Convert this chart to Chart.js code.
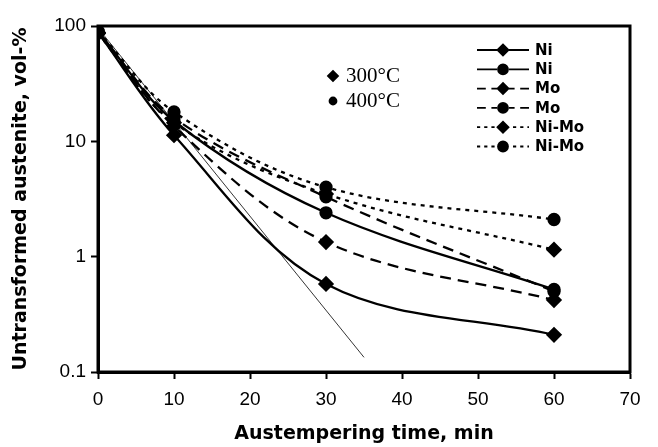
<!DOCTYPE html>
<html>
<head>
<meta charset="utf-8">
<script src="https://cdn.jsdelivr.net/npm/chart.js@4.4.1/dist/chart.umd.min.js"></script>
<style>
  html, body { margin: 0; padding: 0; background: #fff; }
  #wrap { width: 658px; height: 447px; }
</style>
</head>
<body>
<div id="wrap"><canvas id="myChart" width="658" height="447"></canvas></div>
<script>
// austempering data
const times = [0, 10, 30, 60];
const ni300 = [88, 11.3, 0.58, 0.21];
const ni400 = [90, 15, 2.4, 0.52];
const mo300 = [87, 13.5, 1.34, 0.42];
const mo400 = [89, 16, 3.3, 0.5];
const nimo300 = [86, 14.5, 3.5, 1.15];
const nimo400 = [90, 18, 4.0, 2.1];

// thin straight fit line (log scale)
const fitTimes = [0, 35];
const fitValues = [96, 0.134];

const yTicks = [0.1, 1, 10, 100];
const xTicks = [0, 10, 20, 30, 40, 50, 60, 70];

function pts(xs, ys) {
    return xs.map((x, i) => ({ x: x, y: ys[i] }));
}

function series(label, values, style, dash) {
    return {
        label: label,
        data: pts(times, values),
        borderColor: '#000',
        backgroundColor: '#000',
        borderWidth: 2.3,
        borderDash: dash,
        pointStyle: style,
        pointRadius: style == 'circle' ? 5.5 : 6.5,
        tension: 0.35,
        fill: false
    };
}

const datasets = [
    series('Ni', ni300, 'rectRot', []),
    series('Ni', ni400, 'circle', []),
    series('Mo', mo300, 'rectRot', [11, 7]),
    series('Mo', mo400, 'circle', [11, 7]),
    series('Ni-Mo', nimo300, 'rectRot', [4, 5]),
    series('Ni-Mo', nimo400, 'circle', [4, 5]),
    {
        label: 'fit',
        data: pts(fitTimes, fitValues),
        borderColor: '#000',
        borderWidth: 0.8,
        pointRadius: 0,
        tension: 0,
        fill: false
    }
];

// frame + legend + temperature note
const extras = {
    id: 'extras',
    afterDraw(chart) {
        const c = chart.ctx;
        const a = chart.chartArea;
        c.save();
        c.strokeStyle = '#000';
        c.lineWidth = 3;
        c.strokeRect(a.left, a.top, a.right - a.left, a.bottom - a.top);

        // legend
        const lx1 = 477, lx2 = 529;
        let ly = 50;
        chart.data.datasets.slice(0, 6).forEach(ds => {
            c.lineWidth = 1.8;
            c.setLineDash(ds.borderDash.length ? ds.borderDash.map(d => d * 0.8) : []);
            c.beginPath();
            c.moveTo(lx1, ly);
            c.lineTo(lx2, ly);
            c.stroke();
            c.setLineDash([]);
            c.fillStyle = '#fff';
            c.fillRect((lx1 + lx2) / 2 - 6, ly - 6, 12, 12);
            c.fillStyle = '#000';
            Chart.helpers.drawPoint(c, { pointStyle: ds.pointStyle, radius: ds.pointStyle == 'circle' ? 5 : 5.5, rotation: 0, borderWidth: 1 }, (lx1 + lx2) / 2, ly);
            c.font = 'bold 15px "DejaVu Sans"';
            c.textBaseline = 'middle';
            c.textAlign = 'left';
            c.fillText(ds.label, 535, ly + 1);
            ly += 19.3;
        });

        // temperature note
        c.fillStyle = '#000';
        Chart.helpers.drawPoint(c, { pointStyle: 'rectRot', radius: 5, rotation: 0, borderWidth: 1 }, 333, 76);
        Chart.helpers.drawPoint(c, { pointStyle: 'circle', radius: 3.5, rotation: 0, borderWidth: 1 }, 333, 101);
        c.font = '21px "Liberation Serif"';
        c.textBaseline = 'middle';
        c.fillText('300\u00B0C', 346, 76);
        c.fillText('400\u00B0C', 346, 101);
        c.restore();
    }
};

const ctx = document.getElementById('myChart').getContext('2d');
const myChart = new Chart(ctx, {
    type: 'line',
    data: { datasets: datasets },
    options: {
        responsive: false,
        animation: false,
        layout: { padding: { top: 26, right: 28, left: 10, bottom: 0 } },
        plugins: {
            legend: { display: false },
            tooltip: { enabled: false }
        },
        scales: {
            x: {
                type: 'linear',
                min: 0,
                max: 70,
                afterBuildTicks: s => { s.ticks = xTicks.map(v => ({ value: v })); },
                afterFit: s => { s.height = 75; },
                grid: { drawOnChartArea: false, drawTicks: true, tickLength: 7, tickWidth: 2, color: '#000' },
                border: { color: '#000', width: 3 },
                ticks: { color: '#000', font: { family: 'Liberation Sans', size: 19 }, padding: 9, maxRotation: 0 },
                title: { display: true, text: 'Austempering time, min', color: '#000', font: { family: 'DejaVu Sans', size: 19, weight: 'bold' }, padding: { top: 0, bottom: 2 } }
            },
            y: {
                type: 'logarithmic',
                min: 0.1,
                max: 100,
                afterBuildTicks: s => { s.ticks = yTicks.map(v => ({ value: v })); },
                afterFit: s => { s.width = 88; },
                grid: { drawOnChartArea: false, drawTicks: true, tickLength: 7, tickWidth: 2, color: '#000' },
                border: { color: '#000', width: 3 },
                ticks: { color: '#000', font: { family: 'Liberation Sans', size: 19 }, padding: 5, callback: v => String(v) },
                title: { display: true, text: 'Untransformed austenite, vol-%', color: '#000', font: { family: 'DejaVu Sans', size: 19, weight: 'bold' }, padding: { top: 0, bottom: 0 } }
            }
        }
    },
    plugins: [extras]
});
</script>
</body>
</html>
